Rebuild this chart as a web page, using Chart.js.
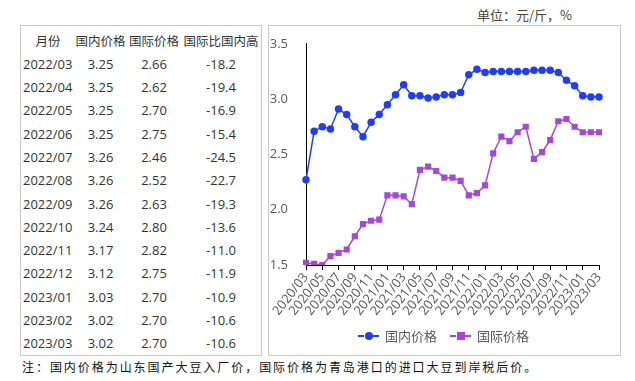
<!DOCTYPE html>
<html>
<head>
<meta charset="utf-8">
<script src="https://cdn.jsdelivr.net/npm/chart.js@4.4.1/dist/chart.umd.min.js"></script>
<style>
  body { margin: 0; width: 635px; height: 381px; background: #fff; position: relative; overflow: hidden;
         font-family: "Open Sans", "Noto Sans CJK SC", sans-serif; color: #333; }
  .box { position: absolute; border: 1px solid #c8c8c8; box-sizing: border-box; }
  #tbl { left: 20px; top: 25px; width: 242px; height: 331px; }
  #chartBox { left: 268px; top: 25px; width: 353px; height: 331px; }
  .cell { position: absolute; height: 23.3px; line-height: 23.3px; font-size: 13px; white-space: nowrap; }
  .hd { font-family: "Noto Sans CJK SC", sans-serif; font-size: 12.5px; }
  #unit { position: absolute; left: 477px; top: 5px; font-size: 13px; color: #4a4038;
          font-family: "Noto Sans CJK SC", sans-serif; }
  #note { position: absolute; left: 22px; top: 358px; font-size: 12px; letter-spacing: 1.95px; color: #111;
          font-family: "Noto Sans CJK SC", sans-serif; }
  #legend { position: absolute; top: 326px; left: 358px; font-family: "Noto Sans CJK SC", sans-serif;
            font-size: 13px; color: #595959; display: flex; align-items: center; }
  .mk { position: relative; width: 21px; height: 14px; display: inline-block; margin-right: 6px; }
  .mk .ln { position: absolute; top: 6px; height: 0; width: 21px; border-top: 2px dashed; }
  .mk .dot { position: absolute; left: 7px; top: 3px; width: 8px; height: 8px; }
</style>
</head>
<body>
<div id="unit">单位：元/斤，%</div>
<div class="box" id="tbl"></div>
<div class="box" id="chartBox"><canvas id="priceChart"></canvas></div>
<div id="legend"></div>
<div id="note">注：国内价格为山东国产大豆入厂价，国际价格为青岛港口的进口大豆到岸税后价。</div>
<script>
// table data
const tableHeaders = ['月份', '国内价格', '国际价格', '国际比国内高'];
const tableMonths = ['2022/03', '2022/04', '2022/05', '2022/06', '2022/07', '2022/08', '2022/09',
  '2022/10', '2022/11', '2022/12', '2023/01', '2023/02', '2023/03'];
const tableDomestic = ['3.25', '3.25', '3.25', '3.25', '3.26', '3.26', '3.26', '3.24', '3.17', '3.12', '3.03', '3.02', '3.02'];
const tableIntl = ['2.66', '2.62', '2.70', '2.75', '2.46', '2.52', '2.63', '2.80', '2.82', '2.75', '2.70', '2.70', '2.70'];
const tableGap = ['-18.2', '-19.4', '-16.9', '-15.4', '-24.5', '-22.7', '-19.3', '-13.6', '-11.0', '-11.9', '-10.9', '-10.6', '-10.6'];

// chart data
const months = [
  '2020/03', '2020/04', '2020/05', '2020/06', '2020/07', '2020/08', '2020/09', '2020/10', '2020/11', '2020/12',
  '2021/01', '2021/02', '2021/03', '2021/04', '2021/05', '2021/06', '2021/07', '2021/08', '2021/09', '2021/10',
  '2021/11', '2021/12', '2022/01', '2022/02', '2022/03', '2022/04', '2022/05', '2022/06', '2022/07', '2022/08',
  '2022/09', '2022/10', '2022/11', '2022/12', '2023/01', '2023/02', '2023/03'
];
const domesticPrice = [
  2.27, 2.71, 2.75, 2.73, 2.91, 2.86, 2.75, 2.66, 2.79, 2.86,
  2.95, 3.04, 3.13, 3.03, 3.03, 3.01, 3.02, 3.04, 3.04, 3.06,
  3.22, 3.27, 3.24, 3.25, 3.25, 3.25, 3.25, 3.25, 3.26, 3.26,
  3.26, 3.24, 3.17, 3.12, 3.03, 3.02, 3.02
];
const intlPrice = [
  1.52, 1.51, 1.50, 1.58, 1.61, 1.64, 1.76, 1.87, 1.90, 1.91,
  2.13, 2.13, 2.12, 2.05, 2.36, 2.39, 2.35, 2.29, 2.29, 2.26,
  2.13, 2.15, 2.22, 2.51, 2.66, 2.62, 2.70, 2.75, 2.46, 2.52,
  2.63, 2.80, 2.82, 2.75, 2.70, 2.70, 2.70
];
const seriesNames = ['国内价格', '国际价格'];
const seriesColors = ['#1f3dff', '#a646e0'];

// build table
const tbl = document.getElementById('tbl');
const colX = [{ left: 2 }, { center: 79.5 }, { center: 133 }, { center: 200 }];
function addCell(text, row, col, isHead) {
  const d = document.createElement('div');
  d.className = 'cell' + (isHead ? ' hd' : '');
  d.textContent = text;
  d.style.top = (3.4 + row * 23.3) + 'px';
  if (colX[col].left !== undefined && !isHead) {
    d.style.left = colX[col].left + 'px';
  } else {
    const c = isHead && col === 0 ? 27 : colX[col].center;
    d.style.left = (c - 50) + 'px';
    d.style.width = '100px';
    d.style.textAlign = 'center';
  }
  tbl.appendChild(d);
}
tableHeaders.forEach((h, c) => addCell(h, 0, c, true));
tableMonths.forEach((m, i) => {
  addCell(m, i + 1, 0);
  addCell(tableDomestic[i], i + 1, 1);
  addCell(tableIntl[i], i + 1, 2);
  addCell(tableGap[i], i + 1, 3);
});

// legend
const legend = document.getElementById('legend');
seriesNames.forEach((name, i) => {
  const item = document.createElement('span');
  item.style.display = 'inline-flex';
  item.style.alignItems = 'center';
  item.style.marginRight = i === 0 ? '13px' : '0';
  const shape = i === 0 ? 'border-radius:50%;' : '';
  item.innerHTML = '<span class="mk"><span class="ln" style="border-color:' + seriesColors[i] + '"></span>' +
    '<span class="dot" style="background:' + seriesColors[i] + ';' + shape + '"></span></span>' + name;
  legend.appendChild(item);
});

// chart
const canvas = document.getElementById('priceChart');
canvas.style.width = '351px';
canvas.style.height = '329px';

const config = {
  type: 'line',
  data: {
    labels: months,
    datasets: [{
      label: seriesNames[0],
      data: domesticPrice,
      borderColor: seriesColors[0],
      backgroundColor: seriesColors[0],
      borderWidth: 1.5,
      pointStyle: 'circle',
      pointRadius: 3,
      tension: 0
    }, {
      label: seriesNames[1],
      data: intlPrice,
      borderColor: seriesColors[1],
      backgroundColor: seriesColors[1],
      borderWidth: 1.5,
      pointStyle: 'rect',
      pointRadius: 3.3,
      tension: 0
    }]
  },
  options: {
    responsive: false,
    animation: false,
    layout: { padding: { top: 15.5, right: 21, left: 0, bottom: 0 } },
    plugins: { legend: { display: false }, tooltip: { enabled: false } },
    scales: {
      x: {
        offset: false,
        grid: { drawOnChartArea: false, drawTicks: true, tickLength: 5, color: '#000' },
        border: { display: true, color: '#000', width: 1 },
        ticks: {
          autoSkip: false,
          minRotation: 52,
          maxRotation: 52,
          padding: 0,
          color: '#595959',
          font: { family: 'Open Sans', size: 13 },
          callback: function (v, i) { return i % 2 === 0 ? months[i] : null; }
        },
        afterFit: function (s) { s.height = 90; }
      },
      y: {
        min: 1.5,
        max: 3.5,
        grid: { display: false },
        border: { display: true, color: '#000', width: 1 },
        ticks: {
          stepSize: 0.5,
          padding: 10,
          color: '#595959',
          font: { family: 'Open Sans', size: 13 },
          callback: function (v) { return v.toFixed(1); }
        },
        afterFit: function (s) { s.width = 37; }
      }
    }
  }
};

const priceChart = new Chart(canvas, config);
</script>
</body>
</html>
